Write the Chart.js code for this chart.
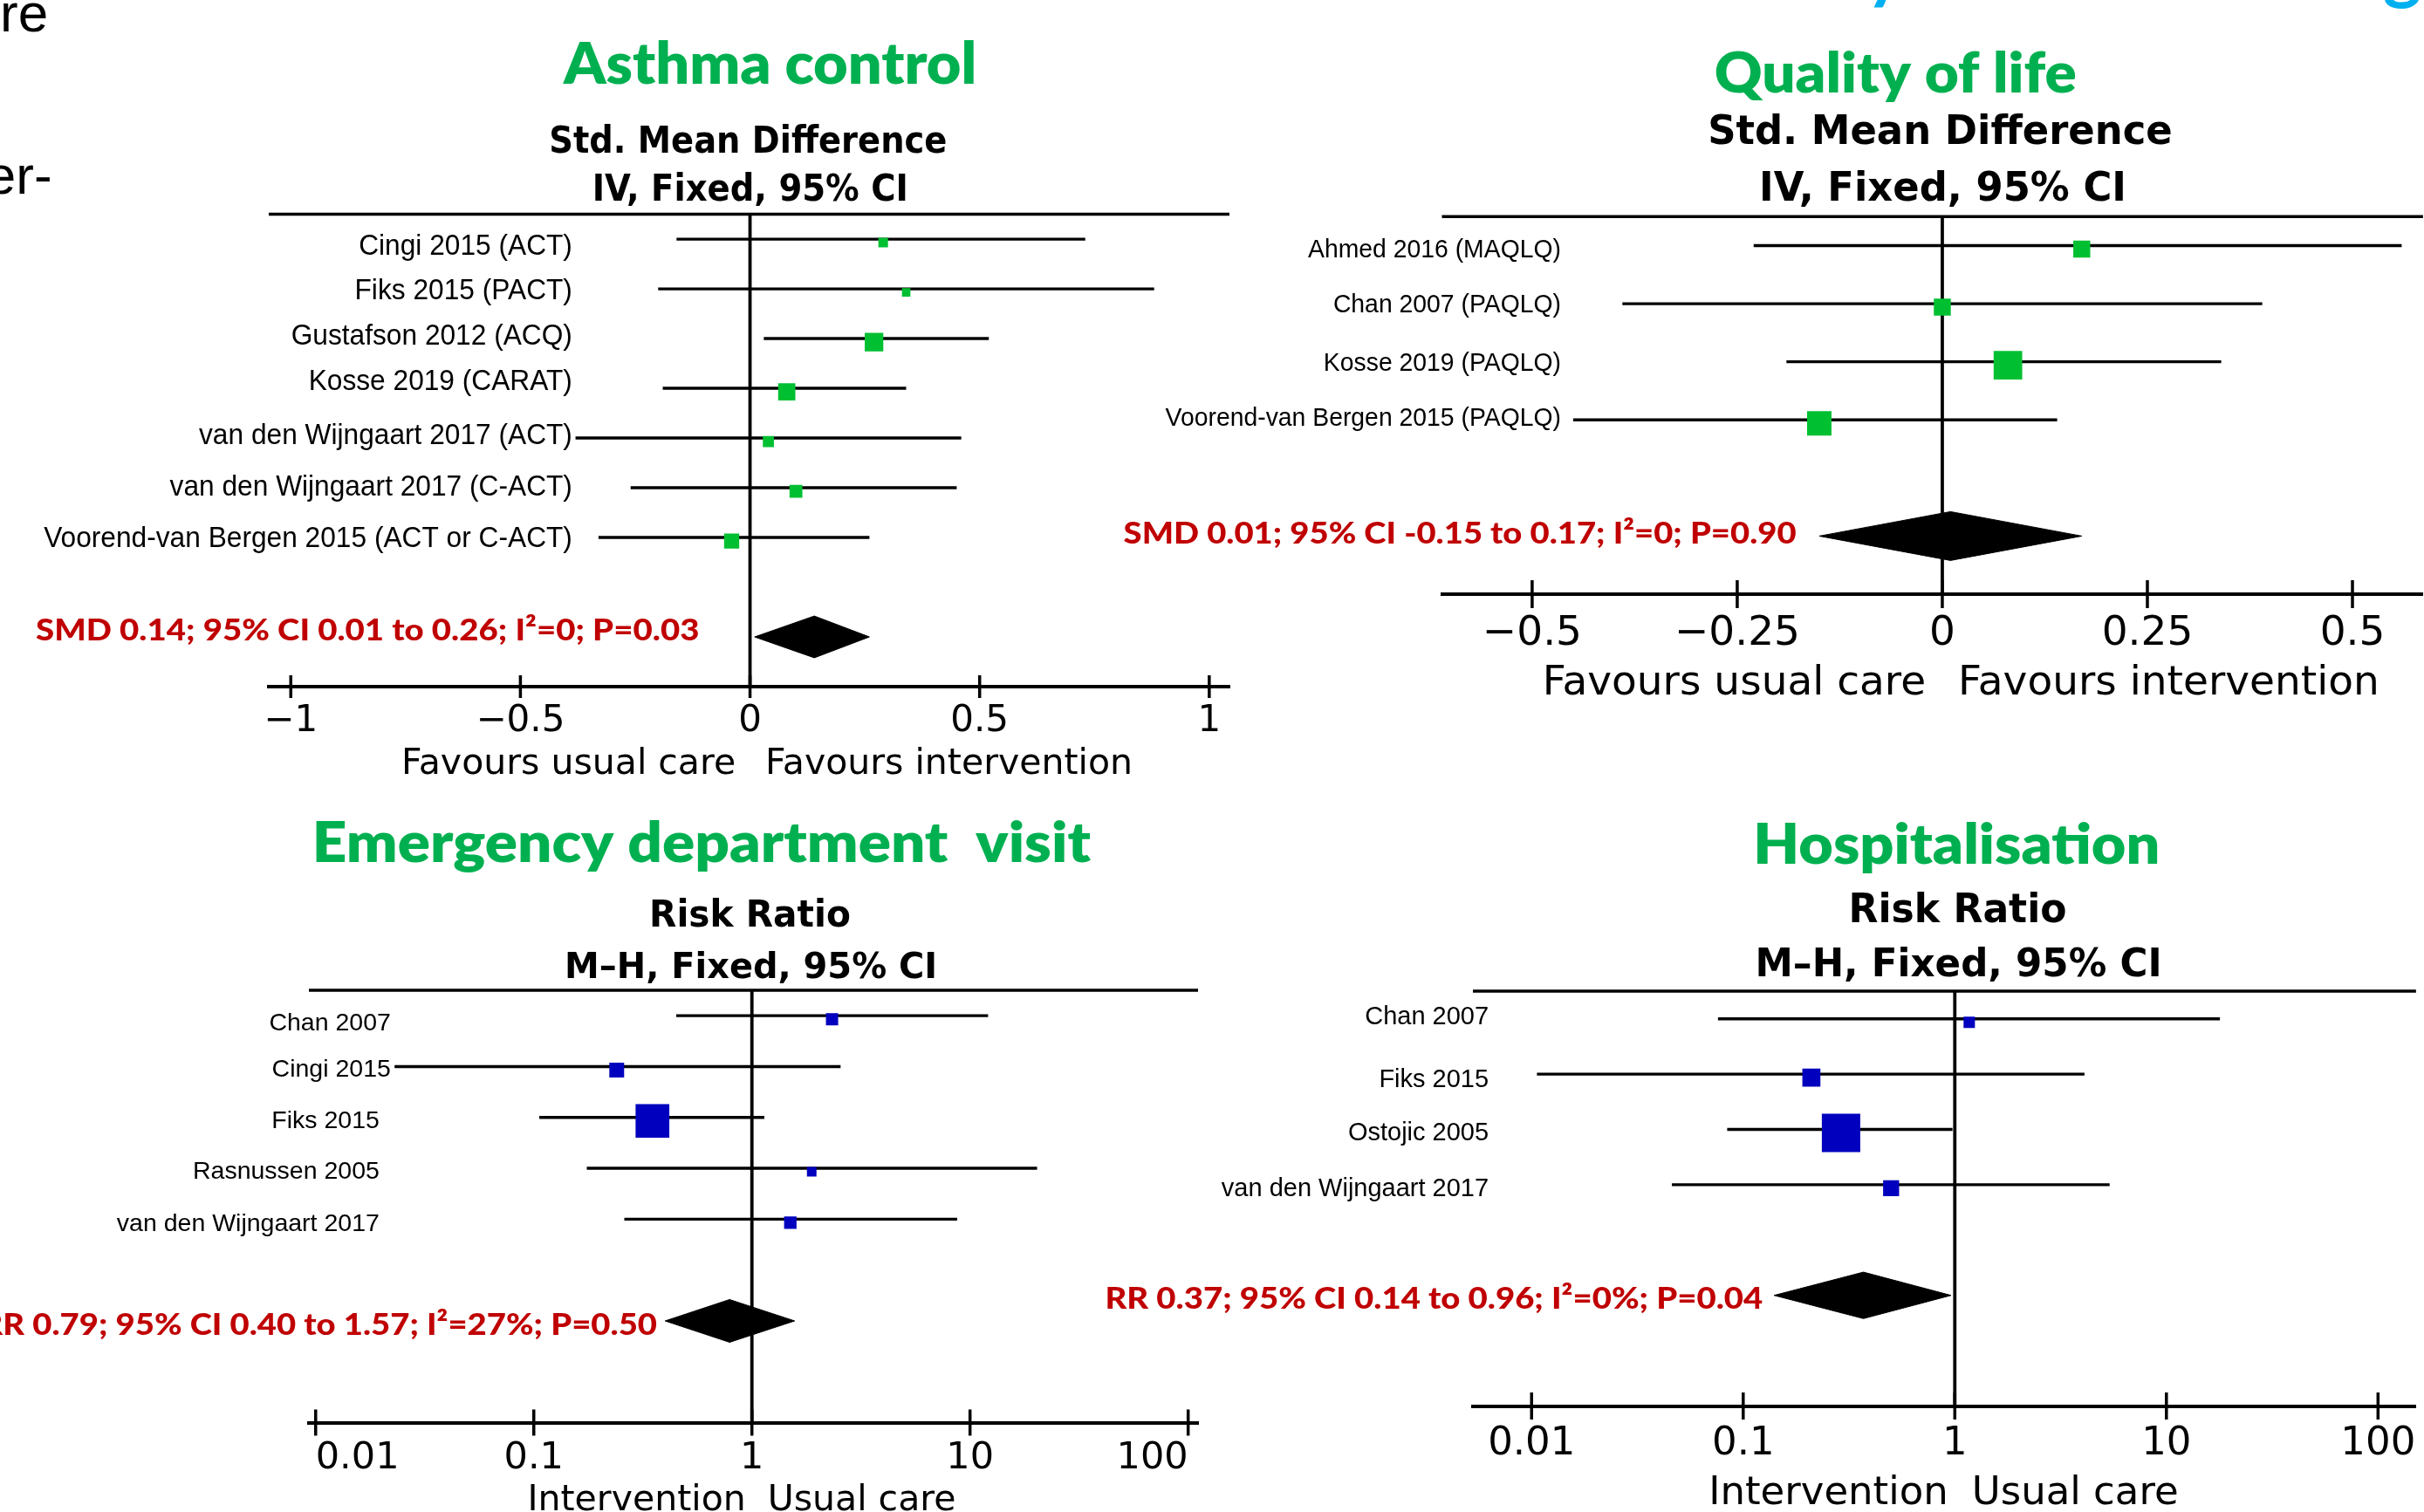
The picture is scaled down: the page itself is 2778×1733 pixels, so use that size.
<!DOCTYPE html>
<html>
<head>
<meta charset="utf-8">
<title>Forest plots</title>
<script src="https://cdn.jsdelivr.net/npm/chart.js"></script>
<style>
  html, body { margin: 0; padding: 0; background: #fff; }
  #page { position: relative; width: 2778px; height: 1733px; overflow: hidden; background: #fff; }
  #page canvas { position: absolute; left: 0; top: 0; }
</style>
</head>
<body>
<div id="page">
  <canvas id="asthmaChart" width="2800" height="1733"></canvas>
  <canvas id="qolChart" width="2800" height="1733"></canvas>
  <canvas id="edChart" width="2800" height="1733"></canvas>
  <canvas id="hospChart" width="2800" height="1733"></canvas>
</div>
<script>
const H = 1733;

// Asthma control - Std. Mean Difference, IV, Fixed, 95% CI
const asthmaStudies = ['Cingi 2015 (ACT)', 'Fiks 2015 (PACT)', 'Gustafson 2012 (ACQ)', 'Kosse 2019 (CARAT)',
  'van den Wijngaart 2017 (ACT)', 'van den Wijngaart 2017 (C-ACT)', 'Voorend-van Bergen 2015 (ACT or C-ACT)'];
const asthmaEst = [0.29, 0.34, 0.27, 0.08, 0.04, 0.10, -0.04];
const asthmaLow = [-0.16, -0.20, 0.03, -0.19, -0.38, -0.26, -0.33];
const asthmaHigh = [0.73, 0.88, 0.52, 0.34, 0.46, 0.45, 0.26];
const asthmaWeight = [7.0, 5.4, 26.2, 22.4, 9.3, 12.5, 17.3];
const asthmaPooled = [0.14, 0.01, 0.26];   // estimate, low, high
const asthmaSummary = 'SMD 0.14; 95% CI 0.01 to 0.26; I²=0; P=0.03';
const asthmaTicks = [-1, -0.5, 0, 0.5, 1];
const asthmaTickLabels = ['−1', '−0.5', '0', '0.5', '1'];

// Quality of life - Std. Mean Difference, IV, Fixed, 95% CI
const qolStudies = ['Ahmed 2016 (MAQLQ)', 'Chan 2007 (PAQLQ)', 'Kosse 2019 (PAQLQ)', 'Voorend-van Bergen 2015 (PAQLQ)'];
const qolEst = [0.17, 0.00, 0.08, -0.15];
const qolLow = [-0.23, -0.39, -0.19, -0.45];
const qolHigh = [0.56, 0.39, 0.34, 0.14];
const qolWeight = [14.5, 14.5, 41.0, 30.0];
const qolPooled = [0.01, -0.15, 0.17];
const qolSummary = 'SMD 0.01; 95% CI -0.15 to 0.17; I²=0; P=0.90';
const qolTicks = [-0.5, -0.25, 0, 0.25, 0.5];
const qolTickLabels = ['−0.5', '−0.25', '0', '0.25', '0.5'];

// Emergency department visit - Risk Ratio, M-H, Fixed, 95% CI
const edStudies = ['Chan 2007', 'Cingi 2015', 'Fiks 2015', 'Rasnussen 2005', 'van den Wijngaart 2017'];
const edEst = [2.33, 0.24, 0.35, 1.88, 1.50];
const edLow = [0.45, 0.023, 0.106, 0.175, 0.26];
const edHigh = [12.1, 2.55, 1.14, 20.3, 8.73];
const edWeight = [8.5, 12.5, 64.9, 5.2, 8.8];
const edPooled = [0.79, 0.40, 1.57];
const edSummary = 'RR 0.79; 95% CI 0.40 to 1.57; I²=27%; P=0.50';

// Hospitalisation - Risk Ratio, M-H, Fixed, 95% CI
const hospStudies = ['Chan 2007', 'Fiks 2015', 'Ostojic 2005', 'van den Wijngaart 2017'];
const hospEst = [1.17, 0.21, 0.29, 0.50];
const hospLow = [0.076, 0.0106, 0.084, 0.046];
const hospHigh = [17.9, 4.1, 0.975, 5.39];
const hospWeight = [5.9, 14.9, 67.5, 11.7];
const hospPooled = [0.37, 0.14, 0.96];
const hospSummary = 'RR 0.37; 95% CI 0.14 to 0.96; I²=0%; P=0.04';

const rrTicks = [0.01, 0.1, 1, 10, 100];
const rrTickLabels = ['0.01', '0.1', '1', '10', '100'];

const GREEN = '#00b050', RED = '#c00000';

// panel set-up: data references plus page layout (pixels)
const panels = [
  {
    canvas: 'asthmaChart', type: 'linear', xMin: -1.048, xMax: 1.044, nullValue: 0,
    ticks: asthmaTicks, tickLabels: asthmaTickLabels, tickAlign: 'center',
    studies: asthmaStudies, est: asthmaEst, low: asthmaLow, high: asthmaHigh, weight: asthmaWeight,
    pooled: asthmaPooled, pooledRow: 9, rowMax: 10, summary: asthmaSummary,
    favours: ['Favours usual care', 'Favours intervention'],
    title: 'Asthma control', subtitle: ['Std. Mean Difference', 'IV, Fixed, 95% CI'],
    markColor: '#00c032', boxScale: 4.16,
    area: { left: 308, right: 1409, top: 245.6, bottom: 787 },
    tickSize: 42, tickPad: 15, tickLen: 13,
    labelRight: 654, labelSize: 33, labelSx: 0.96, labelDy: [9, 3, -2, -7, -2, 0, 2],
    sumPos: { x: 800, y: 734, w: 759 },
    fav: { y: 887, size: 41, gapL: 17.6, gapR: 21.4 },
    titlePos: { x: 880.5, y: 96.4, size: 66, w: 471 },
    subPos: [{ x: 858, y: 175, size: 42, w: 452 }, { x: 859.5, y: 229.6, size: 42, w: 356 }]
  },
  {
    canvas: 'qolChart', type: 'linear', xMin: -0.610, xMax: 0.586, nullValue: 0,
    ticks: qolTicks, tickLabels: qolTickLabels, tickAlign: 'center',
    studies: qolStudies, est: qolEst, low: qolLow, high: qolHigh, weight: qolWeight,
    pooled: qolPooled, pooledRow: 6, rowMax: 7, summary: qolSummary,
    favours: ['Favours usual care', 'Favours intervention'],
    title: 'Quality of life', subtitle: ['Std. Mean Difference', 'IV, Fixed, 95% CI'],
    markColor: '#00c032', boxScale: 5.11,
    area: { left: 1652.5, right: 2780, top: 248.2, bottom: 681 },
    tickSize: 47, tickPad: 17.5, tickLen: 16,
    labelRight: 1788, labelSize: 30, labelSx: 0.945, labelDy: [5.5, 2, 2, -1.5],
    sumPos: { x: 2058.3, y: 623, w: 770.7 },
    fav: { y: 796, size: 47, gapL: 20.8, gapR: 22.1 },
    titlePos: { x: 2172, y: 105.7, size: 64, w: 412.6 },
    subPos: [{ x: 2224, y: 165.3, size: 47, w: 528 }, { x: 2226.5, y: 230, size: 46, w: 413 }]
  },
  {
    canvas: 'edChart', type: 'logarithmic', xMin: 0.00931, xMax: 111, nullValue: 1,
    ticks: rrTicks, tickLabels: rrTickLabels, tickAlign: 'inner',
    studies: edStudies, est: edEst, low: edLow, high: edHigh, weight: edWeight,
    pooled: edPooled, pooledRow: 7, rowMax: 9, summary: edSummary,
    favours: ['Intervention', 'Usual care'],
    title: 'Emergency department  visit', subtitle: ['Risk Ratio', 'M–H, Fixed, 95% CI'],
    markColor: '#0000be', boxScale: 4.80,
    area: { left: 354, right: 1373, top: 1135, bottom: 1630.6 },
    tickSize: 43, tickPad: 15.5, tickLen: 15,
    labelRight: [447, 447, 434, 434, 434], labelSize: 28.5, labelSx: 1, labelDy: [9, 4, 4, 4, 6],
    sumPos: { x: 752.7, y: 1530, w: 772 },
    fav: { y: 1731, size: 41, gapL: 10, gapR: 21 },
    titlePos: { x: 806, y: 987.7, size: 65, w: 888 },
    subPos: [{ x: 860.5, y: 1062, size: 42, w: 227 }, { x: 860.5, y: 1120.5, size: 41, w: 421 }]
  },
  {
    canvas: 'hospChart', type: 'logarithmic', xMin: 0.00528, xMax: 151.2, nullValue: 1,
    ticks: rrTicks, tickLabels: rrTickLabels, tickAlign: 'center',
    studies: hospStudies, est: hospEst, low: hospLow, high: hospHigh, weight: hospWeight,
    pooled: hospPooled, pooledRow: 6, rowMax: 8, summary: hospSummary,
    favours: ['Intervention', 'Usual care'],
    title: 'Hospitalisation', subtitle: ['Risk Ratio', 'M–H, Fixed, 95% CI'],
    markColor: '#0000be', boxScale: 5.36,
    area: { left: 1688, right: 2780, top: 1136, bottom: 1611.5 },
    tickSize: 45, tickPad: 17, tickLen: 15.5,
    labelRight: 1705, labelSize: 29, labelSx: 1, labelDy: [-2, 6.5, 4, 5],
    sumPos: { x: 2020, y: 1500, w: 751.4 },
    fav: { y: 1723.6, size: 45, gapL: 11, gapR: 22.5 },
    titlePos: { x: 2242.8, y: 990, size: 65, w: 458.5 },
    subPos: [{ x: 2244.7, y: 1056.7, size: 46, w: 244.6 }, { x: 2244.7, y: 1119, size: 45, w: 458.6 }]
  }
];

// bits of the slide that show at the edges of the crop
const slideFragments = [
  { text: 're', x: 4, y: 36, font: '62px "Liberation Sans"', color: '#000', align: 'left' },
  { text: 'er-', x: 57, y: 221.7, font: '62px "Liberation Sans"', color: '#000', align: 'right' },
  { text: 'y', x: 2138, y: -6, font: 'bold 84px Lato', color: '#00b0f0', align: 'left' },
  { text: 'g', x: 2733, y: -6, font: 'bold 84px Lato', color: '#00b0f0', align: 'left' }
];

// text placed by its ink box; width (if given) stretches it to that ink width
function drawText(ctx, str, x, y, o) {
  ctx.save();
  ctx.font = o.font;
  ctx.fillStyle = o.color || '#000';
  ctx.textAlign = 'left';
  ctx.textBaseline = o.baseline || 'alphabetic';
  const m = ctx.measureText(str);
  const ink = m.actualBoundingBoxLeft + m.actualBoundingBoxRight;
  const sx = o.width ? o.width / ink : (o.sx || 1);
  const w = ink * sx;
  const left = o.align === 'right' ? x - w : o.align === 'center' ? x - w / 2 : x;
  ctx.translate(left, y);
  ctx.scale(sx, 1);
  ctx.fillText(str, m.actualBoundingBoxLeft, 0);
  ctx.restore();
}

const pick = (v, i) => Array.isArray(v) ? v[i] : v;

function forestPlugin(p, withFragments) {
  return {
    id: 'forestText',
    afterDraw(chart) {
      const ctx = chart.ctx, a = chart.chartArea, xs = chart.scales.x, ys = chart.scales.y;

      // top rule and the cross-shaped tick marks
      ctx.save();
      ctx.strokeStyle = '#000';
      ctx.lineWidth = 3.5;
      ctx.beginPath();
      ctx.moveTo(a.left, a.top);
      ctx.lineTo(a.right, a.top);
      xs.ticks.forEach((t, i) => {
        const px = xs.getPixelForTick(i);
        ctx.moveTo(px, a.bottom - p.tickLen);
        ctx.lineTo(px, a.bottom + p.tickLen);
      });
      ctx.stroke();
      ctx.restore();

      p.studies.forEach((s, i) => {
        drawText(ctx, s, pick(p.labelRight, i), ys.getPixelForValue(i + 1) + pick(p.labelDy, i), {
          font: p.labelSize + 'px "Liberation Sans"', align: 'right', sx: p.labelSx, baseline: 'middle'
        });
      });

      drawText(ctx, p.summary, p.sumPos.x, p.sumPos.y,
        { font: '900 35px Lato', color: RED, align: 'right', width: p.sumPos.w });

      const nx = xs.getPixelForValue(p.nullValue);
      const favFont = p.fav.size + 'px "DejaVu Sans"';
      drawText(ctx, p.favours[0], nx - p.fav.gapL, p.fav.y, { font: favFont, align: 'right' });
      drawText(ctx, p.favours[1], nx + p.fav.gapR, p.fav.y, { font: favFont, align: 'left' });

      const t = p.titlePos;
      drawText(ctx, p.title, t.x, t.y, { font: '800 ' + t.size + 'px Lato', color: GREEN, align: 'center', width: t.w });
      p.subtitle.forEach((s, i) => {
        const sp = p.subPos[i];
        drawText(ctx, s, sp.x, sp.y, { font: 'bold ' + sp.size + 'px "DejaVu Sans"', align: 'center', width: sp.w });
      });

      if (withFragments) {
        slideFragments.forEach(f => drawText(ctx, f.text, f.x, f.y, f));
      }
    }
  };
}

function buildPanel(p, idx) {
  const canvas = document.getElementById(p.canvas);
  const rowPx = (p.area.bottom - p.area.top) / (p.rowMax - 0.5);
  const boxDrop = 4 / rowPx;   // boxes sit a little under the CI line
  const rows = p.studies.map((s, i) => i + 1);
  const datasets = [];

  datasets.push({
    data: p.est.map((v, i) => ({ x: v, y: rows[i] + boxDrop })),
    pointStyle: 'rect',
    pointRadius: p.weight.map(w => p.boxScale * Math.sqrt(w) / Math.SQRT2),
    pointBackgroundColor: p.markColor,
    pointBorderWidth: 0,
    showLine: false,
    order: 0
  });

  p.studies.forEach((s, i) => {
    datasets.push({
      data: [{ x: p.low[i], y: rows[i] }, { x: p.high[i], y: rows[i] }],
      showLine: true, borderColor: '#000', borderWidth: 3.4, pointRadius: 0, order: 1
    });
  });

  const [est, lo, hi] = p.pooled;
  const r = p.pooledRow, h = 0.42;
  datasets.push({
    data: [{ x: lo, y: r }, { x: est, y: r - h }, { x: hi, y: r }, { x: est, y: r + h }, { x: lo, y: r }],
    showLine: true, fill: 'shape', backgroundColor: '#000', borderColor: '#000',
    borderWidth: 1, pointRadius: 0, tension: 0, order: 1
  });

  datasets.push({
    data: [{ x: p.nullValue, y: 0.5 }, { x: p.nullValue, y: p.rowMax }],
    showLine: true, borderColor: '#000', borderWidth: 3.8, pointRadius: 0, order: 2
  });

  new Chart(canvas, {
    type: 'scatter',
    data: { datasets },
    options: {
      responsive: false,
      animation: false,
      devicePixelRatio: 1,
      layout: { padding: { left: p.area.left, right: canvas.width - p.area.right, top: p.area.top, bottom: 0 } },
      plugins: { legend: { display: false }, tooltip: { enabled: false } },
      scales: {
        x: {
          type: p.type, min: p.xMin, max: p.xMax,
          afterBuildTicks: s => { s.ticks = p.ticks.map(v => ({ value: v })); },
          afterFit: s => { s.height = H - p.area.bottom; },
          ticks: {
            callback: (v, i) => p.tickLabels[i],
            align: p.tickAlign,
            autoSkip: false, maxRotation: 0, padding: p.tickPad, color: '#000',
            font: { family: 'DejaVu Sans', size: p.tickSize }
          },
          grid: { display: false, drawTicks: false },
          border: { display: true, color: '#000', width: 4 }
        },
        y: { type: 'linear', display: false, min: 0.5, max: p.rowMax, reverse: true }
      }
    },
    plugins: [forestPlugin(p, idx === 0)]
  });
}

panels.forEach(buildPanel);
</script>
</body>
</html>
